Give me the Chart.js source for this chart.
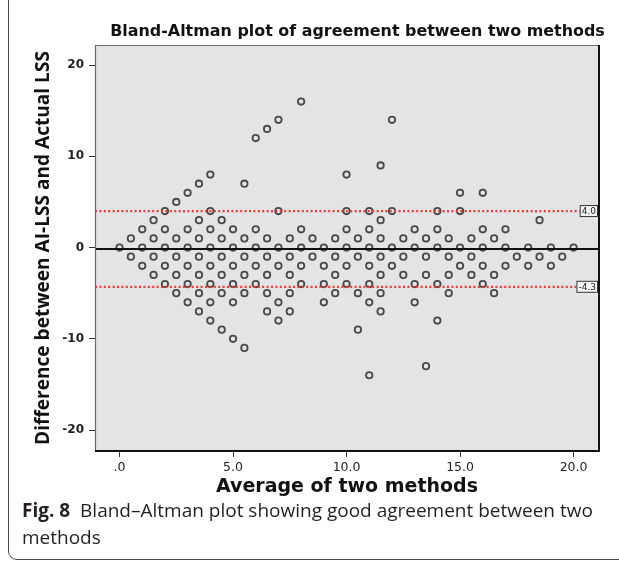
<!DOCTYPE html>
<html>
<head>
<meta charset="utf-8">
<script src="https://cdn.jsdelivr.net/npm/chart.js@4.4.1/dist/chart.umd.min.js"></script>
<style>
html,body{margin:0;padding:0;background:#fff;}
body{width:619px;height:561px;position:relative;overflow:hidden;}
#frame{position:absolute;left:8px;top:-20px;width:720px;height:580px;border:1.5px solid #4a4a4a;border-radius:9px;box-sizing:border-box;}
#wrap{position:absolute;left:0;top:0;width:619px;height:500px;}
#cap{position:absolute;left:22px;top:497px;font-family:"Open Sans";font-size:19px;line-height:27px;color:#231f20;white-space:nowrap;}
#cap b{font-weight:700;}
</style>
</head>
<body>
<div id="frame"></div>
<div id="wrap"><canvas id="c" width="619" height="500"></canvas></div>
<div id="cap"><b>Fig. 8</b>&nbsp; Bland–Altman plot showing good agreement between two<br>methods</div>
<script>
// ---- data ----
const chartTitle = 'Bland-Altman plot of agreement between two methods';
const xAxisTitle = 'Average of two methods';
const yAxisTitle = 'Difference between AI-LSS and Actual LSS';

// average of the two methods (one entry per column of points)
const averages = [0,0.5,1,1.5,2,2.5,3,3.5,4,4.5,5,5.5,6,6.5,7,7.5,8,8.5,9,9.5,10,10.5,11,11.5,12,12.5,13,13.5,14,14.5,15,15.5,16,16.5,17,17.5,18,18.5,19,19.5,20];
// differences observed at each average value
const differences = [
  [0],
  [1,-1],
  [2,0,-2],
  [3,1,-1,-3],
  [4,2,0,-2,-4],
  [5,1,-1,-3,-5],
  [6,2,0,-2,-4,-6],
  [7,3,1,-1,-3,-5,-7],
  [8,4,2,0,-2,-4,-6,-8],
  [3,1,-1,-3,-5,-9],
  [2,0,-2,-4,-6,-10],
  [7,1,-1,-3,-5,-11],
  [12,2,0,-2,-4],
  [13,1,-1,-3,-5,-7],
  [14,4,0,-2,-6,-8],
  [1,-1,-3,-5,-7],
  [16,2,0,-2,-4],
  [1,-1],
  [0,-2,-4,-6],
  [1,-1,-3,-5],
  [8,4,2,0,-2,-4],
  [1,-1,-5,-9],
  [4,2,0,-2,-4,-6,-14],
  [9,3,1,-1,-3,-5,-7],
  [14,4,0,-2],
  [1,-1,-3],
  [2,0,-4,-6],
  [1,-1,-3,-13],
  [4,2,0,-4,-8],
  [1,-1,-3,-5],
  [6,4,0,-2],
  [1,-1,-3],
  [6,2,0,-2,-4],
  [1,-3,-5],
  [2,0,-2],
  [-1],
  [0,-2],
  [3,-1],
  [0,-2],
  [-1],
  [0]
];
const meanDifference = -0.15;
const upperLimit = 4.0;
const lowerLimit = -4.3;

const xTickValues = [0,5,10,15,20];
const xTickLabels = ['.0','5.0','10.0','15.0','20.0'];
const yTickValues = [-20,-10,0,10,20];
const yTickLabels = ['-20','-10','0','10','20'];
const xRange = [-1.08, 21.12];
const yRange = [-22.3, 22.2];

// ---- build points ----
const points = [];
averages.forEach((a, i) => differences[i].forEach(d => points.push({x: a, y: d})));
const hLine = v => [{x: xRange[0], y: v}, {x: xRange[1], y: v}];

function fitSize(text, weight, family, width) {
  const c = document.createElement('canvas').getContext('2d');
  c.font = weight + ' 100px ' + family;
  return 100 * width / c.measureText(text).width;
}
const titleSize = fitSize(chartTitle, 'bold', '"DejaVu Sans"', 495);
const xTitleSize = fitSize(xAxisTitle, 'bold', '"DejaVu Sans"', 262);
const yTitleSize = fitSize(yAxisTitle, 'bold', '"Open Sans"', 394);

const decor = {
  id: 'decor',
  beforeDraw(chart) {
    const {ctx, chartArea: a} = chart;
    ctx.save();
    ctx.fillStyle = '#e4e4e4';
    ctx.fillRect(a.left, a.top, a.right - a.left, a.bottom - a.top);
    ctx.restore();
  },
  afterDatasetsDraw(chart) {
    const {ctx, chartArea: a, scales} = chart;
    ctx.save();
    ctx.strokeStyle = '#6a6a6a';
    ctx.lineWidth = 1.2;
    ctx.beginPath();
    ctx.moveTo(a.left + 0.5, a.bottom);
    ctx.lineTo(a.left + 0.5, a.top + 0.5);
    ctx.lineTo(a.right, a.top + 0.5);
    ctx.stroke();
    ctx.strokeStyle = '#111';
    ctx.lineWidth = 2;
    ctx.beginPath();
    ctx.moveTo(a.right, a.top);
    ctx.lineTo(a.right, a.bottom);
    ctx.lineTo(a.left, a.bottom);
    ctx.stroke();
    ctx.font = '9px "DejaVu Sans"';
    ctx.textBaseline = 'middle';
    ctx.textAlign = 'right';
    [upperLimit, lowerLimit].forEach(v => {
      const t = v.toFixed(1);
      const y = scales.y.getPixelForValue(v);
      const w = ctx.measureText(t).width + 4;
      const x1 = a.right - 1;
      ctx.fillStyle = '#f4f4f4';
      ctx.fillRect(x1 - w, y - 6, w, 12);
      ctx.strokeStyle = '#333';
      ctx.lineWidth = 1;
      ctx.strokeRect(x1 - w + 0.5, y - 5.5, w - 1, 11);
      ctx.fillStyle = '#222';
      ctx.fillText(t, x1 - 2, y + 0.5);
    });
    ctx.restore();
  },
  afterDraw(chart) {
    const {ctx} = chart;
    ctx.save();
    ctx.font = 'bold ' + titleSize + 'px "DejaVu Sans"';
    ctx.fillStyle = '#111';
    ctx.textAlign = 'center';
    ctx.textBaseline = 'middle';
    ctx.fillText(chartTitle, 357.5, 32);
    ctx.restore();
  }
};

new Chart(document.getElementById('c'), {
  data: {
    datasets: [
      {type: 'scatter', data: points, order: 2, pointStyle: 'circle', pointRadius: 3.2, pointHoverRadius: 3.2,
       borderWidth: 1.8, borderColor: 'rgba(45,45,45,0.85)', backgroundColor: 'rgba(0,0,0,0)'},
      {type: 'line', data: hLine(upperLimit), order: 1, borderColor: '#e63a3a', borderWidth: 2.2, borderDash: [2, 2.4], pointRadius: 0},
      {type: 'line', data: hLine(lowerLimit), order: 1, borderColor: '#e63a3a', borderWidth: 2.2, borderDash: [2, 2.4], pointRadius: 0},
      {type: 'line', data: hLine(meanDifference), order: 1, borderColor: '#111', borderWidth: 2, pointRadius: 0}
    ]
  },
  options: {
    responsive: false,
    animation: false,
    layout: {padding: {top: 45, right: 20, left: 0, bottom: 0}},
    plugins: {legend: {display: false}, tooltip: {enabled: false}, title: {display: false}},
    scales: {
      x: {
        type: 'linear', position: 'bottom', min: xRange[0], max: xRange[1],
        afterBuildTicks: s => { s.ticks = xTickValues.map(v => ({value: v})); },
        afterFit: s => { s.height = 49; },
        ticks: {autoSkip: false, maxRotation: 0, padding: 3, color: '#222',
          font: {family: '"DejaVu Sans"', size: 12.5},
          callback: (v) => xTickLabels[xTickValues.indexOf(v)]},
        grid: {drawOnChartArea: false, drawTicks: true, tickLength: 6, color: '#333', lineWidth: 1},
        border: {display: false},
        title: {display: true, text: xAxisTitle, color: '#111',
          font: {family: '"DejaVu Sans"', weight: 'bold', size: xTitleSize}, padding: {top: 0, bottom: 2}}
      },
      y: {
        type: 'linear', position: 'left', min: yRange[0], max: yRange[1],
        afterBuildTicks: s => { s.ticks = yTickValues.map(v => ({value: v})); },
        afterFit: s => { s.width = 95; },
        ticks: {autoSkip: false, padding: 5, color: '#222',
          font: {family: '"DejaVu Sans"', size: 12, weight: 'bold'},
          callback: (v) => yTickLabels[yTickValues.indexOf(v)]},
        grid: {drawOnChartArea: false, drawTicks: true, tickLength: 6, color: '#333', lineWidth: 1},
        border: {display: false},
        title: {display: true, text: yAxisTitle, color: '#111',
          font: {family: '"Open Sans"', weight: 'bold', size: yTitleSize}, padding: {top: 32, bottom: 0}}
      }
    }
  },
  plugins: [decor]
});
</script>
</body>
</html>
